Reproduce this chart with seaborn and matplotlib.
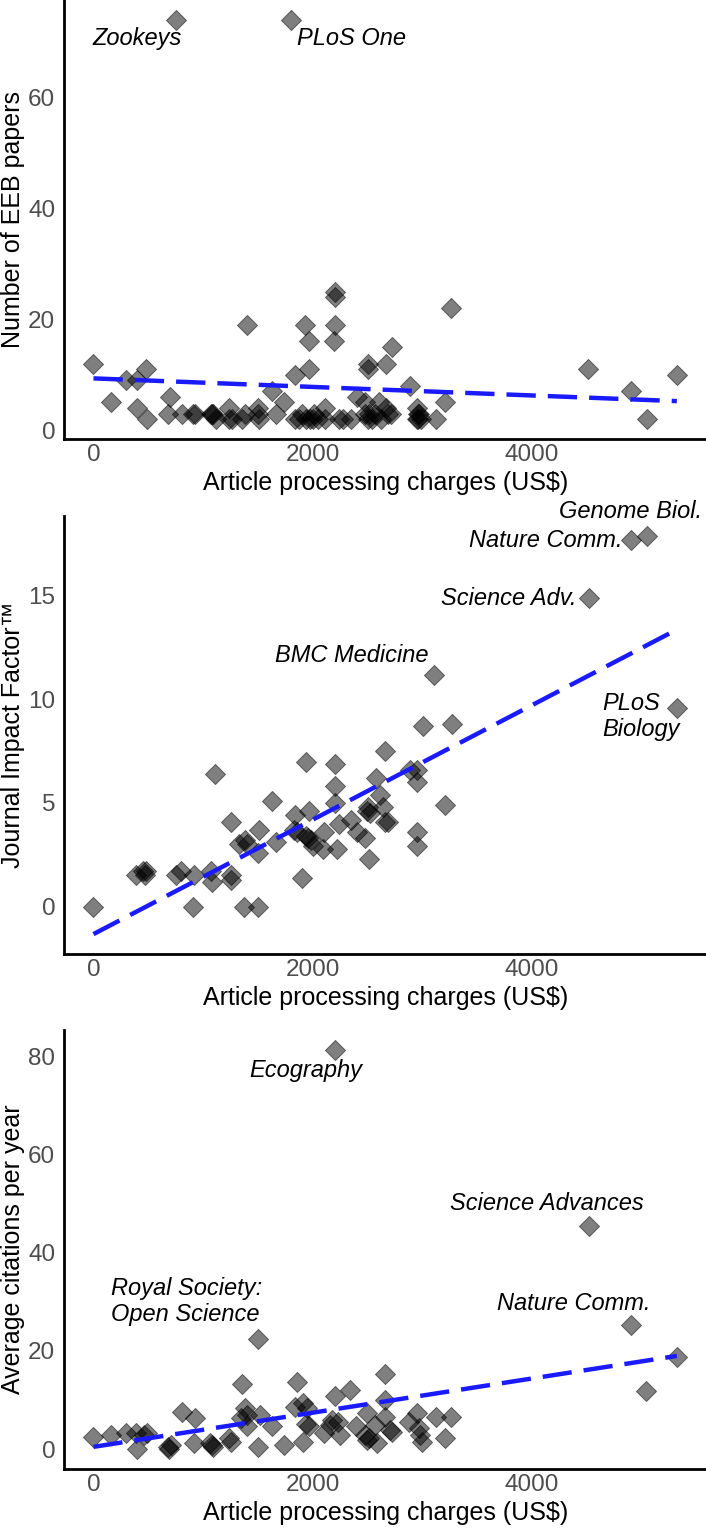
import matplotlib
matplotlib.use("Agg")
import matplotlib.pyplot as plt
import numpy as np
import pandas as pd
import seaborn as sns

# Article processing charges (US$) vs three journal metrics
apc_papers = [0, 160, 300, 400, 480, 400, 490, 700, 680, 810,
              910, 930, 1070, 1080, 1090, 1120, 1240, 1240, 1260, 1355,
              1385, 1400, 1505, 1505, 1510, 1625, 1665, 1740, 1840, 1840,
              1900, 1930, 1965, 1965, 1940, 1975, 2010, 2050, 2115, 2115,
              2205, 2205, 2205, 2195, 2240, 2280, 2350, 2400, 2500, 2500,
              2480, 2480, 2500, 2540, 2570, 2600, 2670, 2725, 2670, 2690,
              2710, 2890, 2950, 2960, 2970, 2950, 2990, 3120, 3205, 3265,
              4510, 4905, 5045, 5320, 750, 1805, 1870, 2000, 2510, 2620, 2960]
n_papers = [12, 5, 9, 9, 11, 4, 2, 6, 3, 3,
            3, 3, 3, 3, 3, 2, 4, 2, 2, 2,
            3, 19, 4, 3, 2, 7, 3, 5, 10, 2,
            3, 19, 16, 11, 2, 2, 3, 2, 4, 2,
            25, 24, 19, 16, 2, 2, 2, 6, 12, 11,
            5, 3, 2, 2, 3, 5, 12, 15, 4, 3,
            3, 8, 4, 3, 3, 2, 2, 2, 5, 22,
            11, 7, 2, 10, 74, 74, 2, 2, 3, 2, 2]

apc_if = [0, 390, 450, 470, 480, 755, 800, 920, 905, 1075,
          1080, 1110, 1250, 1255, 1255, 1370, 1505, 1330, 1385, 1400,
          1510, 1505, 1625, 1665, 1840, 1830, 1860, 1900, 1940, 1965,
          1940, 1960, 1980, 2000, 2100, 2095, 2205, 2205, 2200, 2240,
          2220, 2350, 2405, 2510, 2495, 2505, 2520, 2480, 2575, 2610,
          2640, 2660, 2662, 2690, 2885, 2950, 2950, 2950, 2950, 3005,
          3110, 3270, 3210, 4520, 4905, 5045, 5320]
impact_factor = [0, 1.5, 1.7, 1.5, 1.7, 1.5, 1.7, 1.5, 0, 1.7,
                 1.2, 6.4, 1.5, 1.3, 4.1, 0, 0, 3.0, 3.2, 3.0,
                 3.7, 2.6, 5.1, 3.1, 4.4, 3.7, 3.6, 1.4, 7.0, 4.6,
                 3.4, 3.3, 3.2, 2.9, 3.6, 2.8, 6.9, 5.8, 5.0, 4.0,
                 2.8, 4.2, 3.6, 2.3, 4.6, 4.8, 4.5, 3.3, 6.2, 5.4,
                 4.8, 4.1, 7.5, 4.1, 6.6, 6.6, 6.0, 3.6, 2.9, 8.7,
                 11.2, 8.8, 4.9, 14.9, 17.7, 17.9, 9.6]

apc_cites = [0, 160, 300, 400, 390, 460, 490, 690, 680, 705,
             810, 930, 915, 1080, 1090, 1065, 1235, 1250, 1355, 1345,
             1385, 1400, 1400, 1505, 1515, 1505, 1630, 1740, 1855, 1835,
             1910, 1950, 1940, 1965, 1910, 2100, 2205, 2205, 2175, 2230,
             2250, 2155, 2340, 2390, 2475, 2495, 2510, 2495, 2570, 2590,
             2660, 2660, 2660, 2700, 2720, 2880, 2955, 2965, 2980, 3000,
             3120, 3205, 3265, 4515, 4900, 5040, 5320]
citations = [2.5, 2.9, 3.3, 0.0, 3.2, 2.9, 3.2, 0.1, 0.5, 0.8,
             7.6, 6.3, 1.2, 0.8, 0.5, 1.2, 2.2, 1.5, 13.2, 6.3,
             8.3, 6.9, 4.6, 22.4, 6.9, 0.5, 4.6, 0.8, 13.6, 8.6,
             9.3, 8.3, 5.2, 4.6, 1.5, 3.2, 10.9, 81.4, 5.9, 5.6,
             2.9, 4.9, 12.0, 4.6, 2.9, 1.8, 2.2, 7.3, 4.9, 1.2,
             15.3, 10.0, 6.6, 3.9, 3.5, 5.6, 7.3, 4.2, 2.9, 1.5,
             6.6, 2.2, 6.6, 45.4, 25.3, 11.8, 18.8]

ylabels = ["Number of EEB papers", "Journal Impact Factor™", "Average citations per year"]
yticks = [[0, 20, 40, 60], [0, 5, 10, 15], [0, 20, 40, 60, 80]]
xticks = [0, 2000, 4000]

# journal labels: (text, x, y, alignment)
labels_papers = [("Zookeys", 395, 70.6, "center"), ("PLoS One", 2352, 70.6, "center")]
labels_if = [("Genome Biol.", 5547, 19.1, "right"), ("Nature Comm.", 4820, 17.67, "right"),
             ("Science Adv.", 4406, 14.9, "right"), ("BMC Medicine", 2354, 12.1, "center"),
             ("PLoS\nBiology", 4643, 9.18, "left")]
labels_cites = [("Ecography", 1935, 77.3, "center"), ("Science Advances", 4136, 50.1, "center"),
                ("Royal Society:\nOpen Science", 162, 30.1, "left"), ("Nature Comm.", 4377, 29.7, "center")]

panels = [
    (pd.DataFrame({"apc": apc_papers, "val": n_papers}), labels_papers),
    (pd.DataFrame({"apc": apc_if, "val": impact_factor}), labels_if),
    (pd.DataFrame({"apc": apc_cites, "val": citations}), labels_cites),
]

sns.set_style("white")
plt.rcParams["font.family"] = ["Liberation Sans", "DejaVu Sans"]
plt.rcParams["text.color"] = "black"
plt.rcParams["axes.labelcolor"] = "black"

W, H = 706, 1529
fig = plt.figure(figsize=(W / 100, H / 100), dpi=100)
boxes = [(0, 439), (516, 954), (1030, 1469)]  # top / bottom of each axes in pixels
left = 64.3


def padded(lo, hi):
    r = hi - lo
    return lo - 0.05 * r, hi + 0.05 * r


for i, (df, labels) in enumerate(panels):
    top, bottom = boxes[i]
    ax = fig.add_axes([left / W, 1 - bottom / H, (W - left) / W, (bottom - top) / H])
    sns.regplot(
        data=df, x="apc", y="val", ax=ax, ci=None, marker="D", color="black",
        scatter_kws=dict(s=105, alpha=0.5, edgecolor="black", linewidths=0.7),
        line_kws=dict(color="#1a1aff", lw=3.2, dashes=(6.6, 2.7)),
    )
    # ggplot-style 5% expansion around data and fitted line
    slope, icept = np.polyfit(df["apc"], df["val"], 1)
    ends = icept + slope * np.array([df["apc"].min(), df["apc"].max()])
    ax.set_xlim(*padded(0, 5320))
    ax.set_ylim(*padded(min(df["val"].min(), ends.min()), max(df["val"].max(), ends.max())))

    for text, x, y, ha in labels:
        ax.text(x, y, text, ha=ha, va="center", fontsize=17, style="italic",
                color="black", clip_on=False)

    ax.set_xticks(xticks)
    ax.set_yticks(yticks[i])
    ax.tick_params(axis="both", colors="#333333", labelcolor="#4D4D4D",
                   labelsize=17.5, length=3, width=0.8, direction="out")
    ax.tick_params(axis="x", pad=0.5)
    ax.tick_params(axis="y", pad=3.5)
    ax.set_xlabel("Article processing charges (US$)", fontsize=18)
    ax.set_ylabel(ylabels[i], fontsize=18)
    ax.xaxis.set_label_coords(0.5, -0.072)
    ax.yaxis.set_label_coords((25 - left) / (W - left), 0.5)

    sns.despine(ax=ax)
    for side in ["left", "bottom"]:
        ax.spines[side].set_color("black")
        ax.spines[side].set_linewidth(2.0)

fig.savefig("out.png", dpi=100)
